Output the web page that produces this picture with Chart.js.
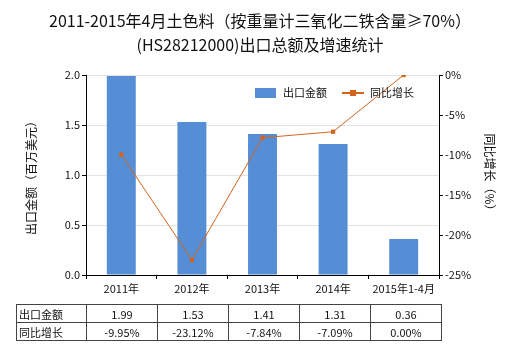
<!DOCTYPE html>
<html lang="zh">
<head>
    <meta charset="UTF-8">
    <title>土色料出口总额及增速统计</title>
    <script src="https://cdn.jsdelivr.net/npm/chart.js@4.4.1/dist/chart.umd.min.js"></script>
    <style>
        body {
            margin: 0;
            background: #fff;
            font-family: "Noto Sans CJK SC", "Noto Sans", sans-serif;
        }
        .wrap {
            position: relative;
            width: 520px;
            height: 350px;
        }
        .title {
            position: absolute;
            top: 8px;
            left: 0;
            width: 520px;
            text-align: center;
            font-size: 16px;
            line-height: 24px;
            color: #111;
        }
        canvas {
            position: absolute;
            left: 0;
            top: 0;
        }
        table.stats {
            position: absolute;
            left: 16px;
            top: 304px;
            border-collapse: collapse;
            font-size: 11px;
            color: #111;
        }
        table.stats td {
            border: 1px solid #444;
            height: 17px;
            padding: 0;
            text-align: center;
            width: 70px;
        }
        table.stats td.head {
            text-align: left;
            padding-left: 2px;
            width: 67px;
        }
    </style>
</head>
<body>
    <div class="wrap">
        <canvas id="exportChart" width="520" height="350"></canvas>
        <div class="title">2011-2015年4月土色料（按重量计三氧化二铁含量≥70%）<br>(HS28212000)出口总额及增速统计</div>
        <table class="stats" id="statsTable"></table>
    </div>

    <script>
        const years = ['2011年', '2012年', '2013年', '2014年', '2015年1-4月'];
        const exportValue = [1.99, 1.53, 1.41, 1.31, 0.36];
        const growthRate = [-9.95, -23.12, -7.84, -7.09, 0.00];

        const barColor = '#558ed5';
        const lineColor = '#d2641e';
        const fontFamily = '"Noto Sans CJK SC", "Noto Sans", sans-serif';

        // legend drawn inside the plot, top right
        const legendPlugin = {
            id: 'innerLegend',
            afterDraw(chart) {
                const ctx = chart.ctx;
                const y = 93;
                ctx.save();
                ctx.font = '11px ' + fontFamily;
                ctx.textBaseline = 'middle';
                ctx.fillStyle = barColor;
                ctx.fillRect(255, y - 5, 21, 10);
                ctx.fillStyle = '#111';
                ctx.fillText('出口金额', 283, y);
                ctx.strokeStyle = lineColor;
                ctx.lineWidth = 2;
                ctx.beginPath();
                ctx.moveTo(342, y);
                ctx.lineTo(364, y);
                ctx.stroke();
                ctx.fillStyle = lineColor;
                ctx.fillRect(350, y - 3, 6, 6);
                ctx.fillStyle = '#111';
                ctx.fillText('同比增长', 370, y);
                ctx.restore();
            }
        };

        const ctx = document.getElementById('exportChart').getContext('2d');
        new Chart(ctx, {
            type: 'bar',
            data: {
                labels: years,
                datasets: [
                    {
                        type: 'line',
                        label: '同比增长',
                        data: growthRate,
                        yAxisID: 'y1',
                        borderColor: lineColor,
                        backgroundColor: lineColor,
                        borderWidth: 1,
                        pointStyle: 'rect',
                        pointRadius: 3,
                        pointBorderWidth: 0,
                        tension: 0,
                        order: 0
                    },
                    {
                        label: '出口金额',
                        data: exportValue,
                        yAxisID: 'y',
                        backgroundColor: barColor,
                        categoryPercentage: 1,
                        barPercentage: 0.41,
                        order: 1
                    }
                ]
            },
            options: {
                responsive: false,
                animation: false,
                layout: {
                    padding: { top: 75, bottom: 55, left: 0, right: 0 }
                },
                plugins: {
                    legend: { display: false },
                    tooltip: { enabled: false }
                },
                scales: {
                    x: {
                        grid: {
                            display: true,
                            drawOnChartArea: false,
                            tickLength: 4,
                            color: '#000'
                        },
                        border: { color: '#000' },
                        ticks: {
                            font: { size: 11, family: fontFamily },
                            color: '#111',
                            padding: 3,
                            maxRotation: 0
                        },
                        afterFit(scale) { scale.height = 20; }
                    },
                    y: {
                        position: 'left',
                        min: 0,
                        max: 2,
                        ticks: {
                            stepSize: 0.5,
                            font: { size: 11, family: fontFamily },
                            color: '#111',
                            padding: 2,
                            callback: v => v.toFixed(1)
                        },
                        grid: {
                            color: '#e3e3e3',
                            tickColor: '#000',
                            tickLength: 4
                        },
                        border: { color: '#000' },
                        title: {
                            display: true,
                            text: '出口金额（百万美元）',
                            font: { size: 12, family: fontFamily },
                            color: '#111',
                            padding: { top: 24, bottom: 0 }
                        },
                        afterFit(scale) { scale.width = 86; }
                    },
                    y1: {
                        position: 'right',
                        min: -25,
                        max: 0,
                        ticks: {
                            stepSize: 5,
                            font: { size: 11, family: fontFamily },
                            color: '#111',
                            padding: 2,
                            callback: v => v + '%'
                        },
                        grid: {
                            drawOnChartArea: false,
                            color: '#000',
                            tickLength: 4
                        },
                        border: { color: '#000' },
                        title: {
                            display: true,
                            text: '同比增长（%）',
                            font: { size: 12, family: fontFamily },
                            color: '#111',
                            padding: { top: 23, bottom: 0 }
                        },
                        afterFit(scale) { scale.width = 81; }
                    }
                }
            },
            plugins: [legendPlugin]
        });

        // data table under the chart
        const table = document.getElementById('statsTable');
        const rows = [
            ['出口金额', exportValue.map(v => v.toFixed(2))],
            ['同比增长', growthRate.map(v => v.toFixed(2) + '%')]
        ];
        rows.forEach(([name, cells]) => {
            const tr = document.createElement('tr');
            tr.innerHTML = `<td class="head">${name}</td>` + cells.map(c => `<td>${c}</td>`).join('');
            table.appendChild(tr);
        });
    </script>
</body>
</html>
